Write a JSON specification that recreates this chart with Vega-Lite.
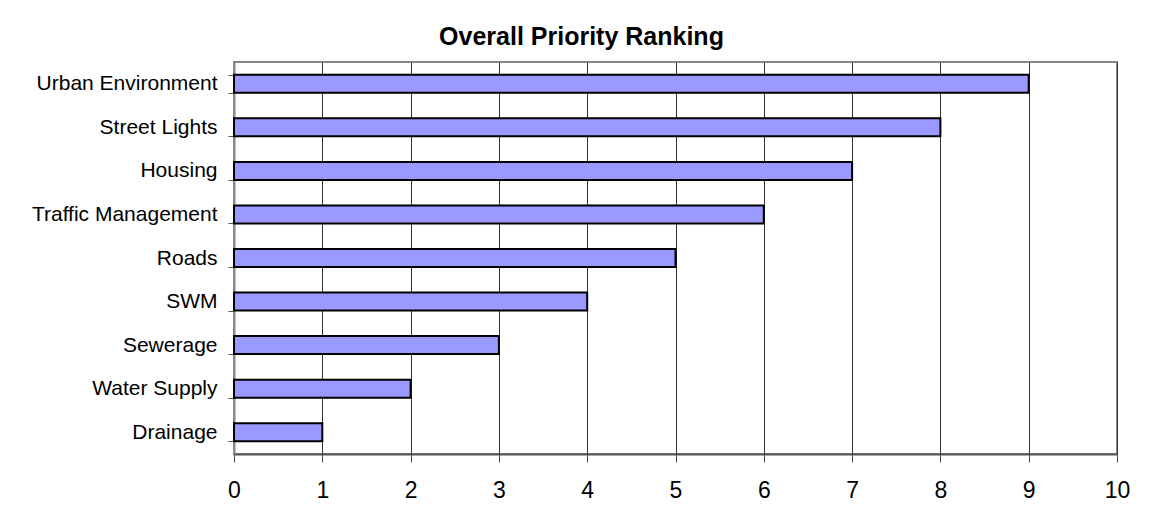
{
  "$schema": "https://vega.github.io/schema/vega-lite/v6.json",
  "autosize": "none",
  "width": 883,
  "height": 392,
  "padding": {"left": 234, "top": 62, "right": 33, "bottom": 63},
  "background": "white",
  "title": {
    "text": "Overall Priority Ranking",
    "font": "Liberation Sans",
    "fontSize": 25,
    "fontWeight": "bold",
    "color": "black",
    "anchor": "middle",
    "frame": "group",
    "dx": -94,
    "offset": 1
  },
  "data": {
    "values": [
      {"category": "Urban Environment", "rank": 9},
      {"category": "Street Lights", "rank": 8},
      {"category": "Housing ", "rank": 7},
      {"category": "Traffic Management", "rank": 6},
      {"category": "Roads", "rank": 5},
      {"category": "SWM", "rank": 4},
      {"category": "Sewerage", "rank": 3},
      {"category": "Water Supply", "rank": 2},
      {"category": "Drainage", "rank": 1}
    ]
  },
  "config": {
    "view": {"stroke": "#888888", "strokeWidth": 2},
    "font": "Liberation Sans"
  },
  "mark": {"type": "bar", "fill": "#9999FF", "stroke": "black", "strokeWidth": 2},
  "encoding": {
    "y": {
      "field": "category",
      "type": "nominal",
      "sort": null,
      "scale": {"paddingInner": 0.587, "paddingOuter": 0.2935},
      "axis": {
        "title": null,
        "tickBand": "extent",
        "tickSize": 6,
        "tickColor": "#555555",
        "domainColor": "#888888",
        "domainWidth": 2,
        "labelFont": "Liberation Sans",
        "labelFontSize": 21,
        "labelColor": "black",
        "labelPadding": 11,
        "labelLimit": 400,
        "grid": false
      }
    },
    "x": {
      "field": "rank",
      "type": "quantitative",
      "scale": {"domain": [0, 10], "nice": false},
      "axis": {
        "title": null,
        "values": [0, 1, 2, 3, 4, 5, 6, 7, 8, 9, 10],
        "format": "d",
        "grid": true,
        "gridColor": "#333333",
        "gridWidth": 1,
        "tickSize": 8,
        "tickColor": "#444444",
        "domainColor": "#555555",
        "domainWidth": 2,
        "labelFont": "Liberation Sans",
        "labelFontSize": 23,
        "labelColor": "black",
        "labelPadding": 17,
        "labelFlush": false,
        "labelOverlap": false
      }
    }
  }
}
